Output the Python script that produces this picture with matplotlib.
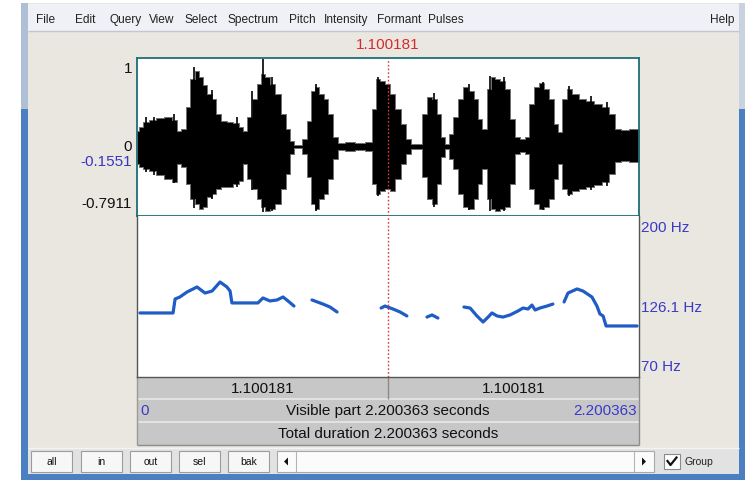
import matplotlib
matplotlib.use('Agg')
import matplotlib.pyplot as plt
from matplotlib.patches import Rectangle, Polygon
import numpy as np

plt.rcParams['font.family'] = ['Liberation Sans', 'DejaVu Sans']

# ---------------- data ----------------
DURATION = 2.200363
CURSOR = 1.100181
WAVE_MAX = 1.0
WAVE_MIN = -0.7911
WAVE_CURSOR_VAL = -0.1551
PITCH_MIN = 70
PITCH_MAX = 200
PITCH_CURSOR_VAL = 126.1

# waveform envelope (seconds, upper amplitude, lower amplitude)
wave_t = [0.000, 0.018, 0.035, 0.066, 0.101, 0.136, 0.167, 0.184, 0.206, 0.224,
          0.245, 0.263, 0.281, 0.298, 0.316, 0.338, 0.355, 0.377, 0.408, 0.434,
          0.456, 0.473, 0.491, 0.513, 0.535, 0.552, 0.574, 0.596, 0.618, 0.640,
          0.662, 0.679, 0.697, 0.714, 0.736, 0.754, 0.771, 0.789, 0.807, 0.828,
          0.850, 0.868, 0.890, 0.934, 0.977, 1.021, 1.039, 1.056, 1.078, 1.100,
          1.122, 1.144, 1.170, 1.192, 1.214, 1.240, 1.258, 1.280, 1.302, 1.324,
          1.341, 1.359, 1.376, 1.398, 1.420, 1.442, 1.464, 1.486, 1.503, 1.525,
          1.543, 1.560, 1.582, 1.604, 1.626, 1.644, 1.666, 1.688, 1.709, 1.727,
          1.749, 1.771, 1.793, 1.815, 1.837, 1.854, 1.872, 1.894, 1.920, 1.951,
          1.986, 2.021, 2.056, 2.082, 2.104, 2.139, 2.170, 2.200]
wave_top = [0.172, 0.218, 0.274, 0.297, 0.320, 0.331, 0.297, 0.172, 0.195, 0.444,
            0.762, 0.853, 0.785, 0.694, 0.592, 0.535, 0.365, 0.286, 0.274, 0.263,
            0.218, 0.172, 0.331, 0.535, 0.705, 0.819, 0.785, 0.705, 0.592, 0.365,
            0.195, 0.059, 0.014, 0.014, 0.082, 0.286, 0.626, 0.671, 0.592, 0.535,
            0.365, 0.104, 0.036, 0.048, 0.036, 0.048, 0.422, 0.762, 0.739, 0.705,
            0.592, 0.422, 0.252, 0.082, 0.025, 0.025, 0.365, 0.558, 0.535, 0.365,
            0.104, 0.025, 0.138, 0.331, 0.535, 0.671, 0.626, 0.535, 0.308, 0.195,
            0.649, 0.785, 0.762, 0.739, 0.649, 0.308, 0.104, 0.082, 0.104, 0.478,
            0.671, 0.717, 0.649, 0.535, 0.252, 0.161, 0.535, 0.649, 0.592, 0.535,
            0.512, 0.478, 0.444, 0.365, 0.195, 0.184, 0.195, 0.195]
wave_bot = [-0.202, -0.236, -0.259, -0.281, -0.327, -0.372, -0.406, -0.202, -0.236, -0.429,
            -0.599, -0.655, -0.712, -0.689, -0.576, -0.542, -0.485, -0.463, -0.463, -0.429,
            -0.395, -0.202, -0.372, -0.485, -0.599, -0.689, -0.735, -0.712, -0.655, -0.485,
            -0.315, -0.088, -0.020, -0.020, -0.088, -0.349, -0.655, -0.712, -0.599, -0.542,
            -0.372, -0.145, -0.043, -0.054, -0.043, -0.054, -0.429, -0.542, -0.508, -0.485,
            -0.508, -0.372, -0.202, -0.088, -0.032, -0.032, -0.349, -0.599, -0.655, -0.429,
            -0.122, -0.032, -0.145, -0.259, -0.542, -0.689, -0.712, -0.599, -0.429, -0.259,
            -0.599, -0.712, -0.735, -0.712, -0.689, -0.429, -0.088, -0.066, -0.088, -0.485,
            -0.655, -0.712, -0.689, -0.599, -0.372, -0.202, -0.485, -0.542, -0.508, -0.485,
            -0.463, -0.440, -0.406, -0.315, -0.179, -0.168, -0.179, -0.179]

# prominent single peaks of the waveform
spike_t = [0.250, 0.504, 0.552, 0.785, 1.056, 1.455, 1.547, 1.780, 1.894,
           0.040, 0.075, 0.160, 0.330, 0.440, 0.590, 1.300, 1.610, 1.990, 2.060]
spike_top = [0.898, 0.626, 0.989, 0.705, 0.785, 0.705, 0.796, 0.728, 0.682,
             0.330, 0.330, 0.360, 0.640, 0.330, 0.780, 0.600, 0.780, 0.570, 0.500]
spike_bot = [-0.700, -0.500, -0.746, -0.735, -0.560, -0.720, -0.740, -0.720, -0.560,
             -0.290, -0.330, -0.420, -0.600, -0.460, -0.740, -0.690, -0.740, -0.500, -0.450]

# pitch contour segments (seconds, Hz)
pitch_t1 = [0.013, 0.158, 0.167, 0.188, 0.219, 0.263, 0.298, 0.329, 0.364, 0.394,
            0.408, 0.416, 0.530, 0.552, 0.583, 0.614, 0.640, 0.662, 0.688]
pitch_hz1 = [121.7, 121.7, 133.0, 134.6, 138.6, 142.7, 137.8, 139.4, 146.7, 142.7,
             139.4, 129.8, 129.8, 133.8, 131.4, 132.2, 134.6, 131.4, 127.3]
pitch_t2 = [0.767, 0.815, 0.846, 0.877]
pitch_hz2 = [132.2, 128.9, 126.5, 122.5]
pitch_t3 = [1.070, 1.087, 1.122, 1.153, 1.183]
pitch_hz3 = [125.7, 127.3, 124.9, 122.5, 119.3]
pitch_t4 = [1.271, 1.293, 1.319]
pitch_hz4 = [118.4, 120.1, 117.6]
pitch_t5 = [1.433, 1.460, 1.490, 1.517, 1.539, 1.556, 1.578, 1.604, 1.635, 1.670,
            1.692, 1.714, 1.731, 1.745, 1.766, 1.797, 1.823]
pitch_hz5 = [126.5, 125.7, 119.3, 114.4, 118.4, 121.7, 119.3, 118.4, 120.1, 123.3,
             125.7, 124.9, 128.1, 124.1, 125.7, 127.3, 128.9]
pitch_t6 = [1.872, 1.889, 1.929, 1.955, 1.994, 2.016, 2.029, 2.043, 2.056, 2.192]
pitch_hz6 = [130.6, 137.8, 141.1, 139.4, 134.6, 127.3, 120.9, 119.3, 111.2, 111.2]

menu_items = ["File", "Edit", "Query", "View", "Select", "Spectrum", "Pitch",
              "Intensity", "Formant", "Pulses"]
buttons = ["all", "in", "out", "sel", "bak"]

# ---------------- layout ----------------
W, H = 748, 481
fig = plt.figure(figsize=(W / 100, H / 100), dpi=100)
bg = fig.add_axes([0, 0, 1, 1])
bg.set_xlim(0, W)
bg.set_ylim(H, 0)
bg.axis('off')

def rect(x0, y0, x1, y1, fc, ec='none', lw=0, z=1):
    bg.add_patch(Rectangle((x0, y0), x1 - x0, y1 - y0, facecolor=fc,
                           edgecolor=ec, linewidth=lw, zorder=z))

def hline(y, x0, x1, c, lw=1, z=3):
    bg.plot([x0, x1], [y, y], color=c, lw=lw, zorder=z, solid_capstyle='butt')

def vline(x, y0, y1, c, lw=1, z=3):
    bg.plot([x, x], [y0, y1], color=c, lw=lw, zorder=z, solid_capstyle='butt')

LBL = 11

# outside white + window frame
rect(0, 0, W, H, '#ffffff', z=0)
rect(21, 4, 745, 481, '#e9e7e0', z=0.5)
rect(21, 4, 28, 110, '#aebfd6', z=1)
rect(21, 110, 28, 481, '#4a7fc1', z=1)
rect(739, 4, 745, 110, '#c9d3e0', z=1)
rect(739, 110, 745, 481, '#4a7fc1', z=1)
rect(21, 475, 745, 481, '#4a7fc1', z=1)

# menubar
rect(28, 5, 739, 32, '#eff1f6', z=1)
hline(32, 28, 739, '#c3c7cf', lw=1)
menu_x = [36, 75, 110, 149, 185, 228, 289, 324, 377, 428]
for name, mx in zip(menu_items, menu_x):
    bg.text(mx, 20, name, fontsize=8.6, color='#222222', va='center', ha='left', zorder=5)
bg.text(735, 20, "Help", fontsize=8.6, color='#222222', va='center', ha='right', zorder=5)

X0, X1 = 137, 639
XC = X0 + (X1 - X0) * CURSOR / DURATION
WY0, WY1 = 59, 217
PY0, PY1 = 217, 378

# cursor time label on top
bg.text(XC, 45, f"{CURSOR:.6f}", fontsize=LBL, color='#d42c2c', ha='center', va='center', zorder=5)

# waveform labels
def wy(v):
    return WY0 + (WAVE_MAX - v) / (WAVE_MAX - WAVE_MIN) * (WY1 - WY0)

bg.text(132, 69, "1", fontsize=LBL, color='#111111', ha='right', va='center', zorder=5)
bg.text(132, wy(0), "0", fontsize=LBL, color='#111111', ha='right', va='center', zorder=5)
bg.text(132, wy(WAVE_CURSOR_VAL) + 1, f"{WAVE_CURSOR_VAL:.4f}", fontsize=LBL, color='#3636c8',
        ha='right', va='center', zorder=5)
bg.text(132, 204, f"{WAVE_MIN:.4f}", fontsize=LBL, color='#111111', ha='right', va='center', zorder=5)

# pitch labels
def py(v):
    return PY1 - (v - PITCH_MIN) / (PITCH_MAX - PITCH_MIN) * (PY1 - PY0)

bg.text(641, 228, f"{PITCH_MAX} Hz", fontsize=LBL, color='#3a3ac8', ha='left', va='center', zorder=5)
bg.text(641, py(PITCH_CURSOR_VAL) - 1, f"{PITCH_CURSOR_VAL} Hz", fontsize=LBL, color='#3a3ac8',
        ha='left', va='center', zorder=5)
bg.text(641, 367, f"{PITCH_MIN} Hz", fontsize=LBL, color='#3a3ac8', ha='left', va='center', zorder=5)

# time bars
BAR = '#c7c7c7'
rect(X0, 378, X1, 400, BAR, z=1)
rect(X0, 400, X1, 423, BAR, z=1)
rect(X0, 423, X1, 446, BAR, z=1)
hline(400, X0, X1, '#e8e8e8', lw=1.2)
hline(423, X0, X1, '#e8e8e8', lw=1.2)
hline(446, X0, X1, '#8c8c8c', lw=1)
vline(X1, 378, 446, '#8c8c8c', lw=1)
vline(X0, 378, 446, '#9a9a9a', lw=1)
vline(XC, 378, 400, '#8a8a8a', lw=1)
bg.text((X0 + XC) / 2, 389, f"{CURSOR:.6f}", fontsize=LBL, color='#111111', ha='center', va='center', zorder=5)
bg.text((XC + X1) / 2, 389, f"{CURSOR:.6f}",
        fontsize=LBL, color='#111111', ha='center', va='center', zorder=5)
bg.text(140, 411.5, "0", fontsize=LBL, color='#3a3ac8', ha='left', va='center', zorder=5)
bg.text(637, 411.5, f"{DURATION:.6f}", fontsize=LBL, color='#3a3ac8', ha='right', va='center', zorder=5)
bg.text(XC, 411.5, f"Visible part {DURATION:.6f} seconds", fontsize=LBL, color='#111111',
        ha='center', va='center', zorder=5)
bg.text(XC, 434.5, f"Total duration {DURATION:.6f} seconds", fontsize=LBL, color='#111111',
        ha='center', va='center', zorder=5)

# button row
rect(28, 449, 739, 475, '#e2e2e2', z=1)
hline(449, 28, 739, '#f4f4f4', lw=1)
btn_x = [31, 81, 130, 179, 228]
for name, bx in zip(buttons, btn_x):
    rect(bx, 452, bx + 41, 473, '#f7f7f7', ec='#9c9c9c', lw=0.8, z=2)
    bg.text(bx + 20.5, 462.5, name, fontsize=7.5, color='#111111', ha='center', va='center', zorder=5)
# scrollbar
rect(277, 452, 654, 473, '#fbfbfb', ec='#a8a8a8', lw=0.8, z=2)
vline(296, 452, 473, '#b4b4b4', lw=0.8)
vline(634, 452, 473, '#b4b4b4', lw=0.8)
bg.add_patch(Polygon([[288, 458.5], [288, 466.5], [284, 462.5]], closed=True, fc='#111111', ec='none', zorder=5))
bg.add_patch(Polygon([[642, 458.5], [642, 466.5], [646, 462.5]], closed=True, fc='#111111', ec='none', zorder=5))
# checkbox
rect(664, 455, 680, 470, '#ffffff', ec='#8a8a8a', lw=0.8, z=2)
bg.plot([667.5, 670.5, 676.5], [462, 466, 458.5], color='#111111', lw=1.6, zorder=5)
bg.text(685, 462.5, "Group", fontsize=7.5, color='#222222', ha='left', va='center', zorder=5)

# ---------------- waveform panel ----------------
axw = fig.add_axes([X0 / W, 1 - WY1 / H, (X1 - X0) / W, (WY1 - WY0) / H])
axw.set_xlim(0, DURATION)
axw.set_ylim(WAVE_MIN, WAVE_MAX)
axw.set_facecolor('#ffffff')
axw.fill_between(wave_t, wave_bot, wave_top, step='mid', facecolor='#000000',
                 edgecolor='#707070', lw=0.7, zorder=2)
axw.vlines(spike_t, spike_bot, spike_top, color='#000000', lw=1.2, zorder=2)
axw.axvline(CURSOR, color='#d43c3c', lw=1, ls=(0, (1.2, 1.5)), zorder=3)
axw.set_xticks([])
axw.set_yticks([])
for s in axw.spines.values():
    s.set_color('#1d6e76')
    s.set_linewidth(1.3)

# ---------------- pitch panel ----------------
axp = fig.add_axes([X0 / W, 1 - PY1 / H, (X1 - X0) / W, (PY1 - PY0) / H])
axp.set_xlim(0, DURATION)
axp.set_ylim(PITCH_MIN, PITCH_MAX)
axp.set_facecolor('#ffffff')
for tt, hh in [(pitch_t1, pitch_hz1), (pitch_t2, pitch_hz2), (pitch_t3, pitch_hz3),
               (pitch_t4, pitch_hz4), (pitch_t5, pitch_hz5), (pitch_t6, pitch_hz6)]:
    axp.plot(tt, hh, color='#1f5cc6', lw=2.3, solid_capstyle='round', solid_joinstyle='round', zorder=2)
axp.axvline(CURSOR, color='#d43c3c', lw=1, ls=(0, (1.2, 1.5)), zorder=3)
axp.set_xticks([])
axp.set_yticks([])
for name, s in axp.spines.items():
    s.set_color('#555555')
    s.set_linewidth(1.0)
axp.spines['top'].set_visible(False)

fig.savefig('out.png', dpi=100)
